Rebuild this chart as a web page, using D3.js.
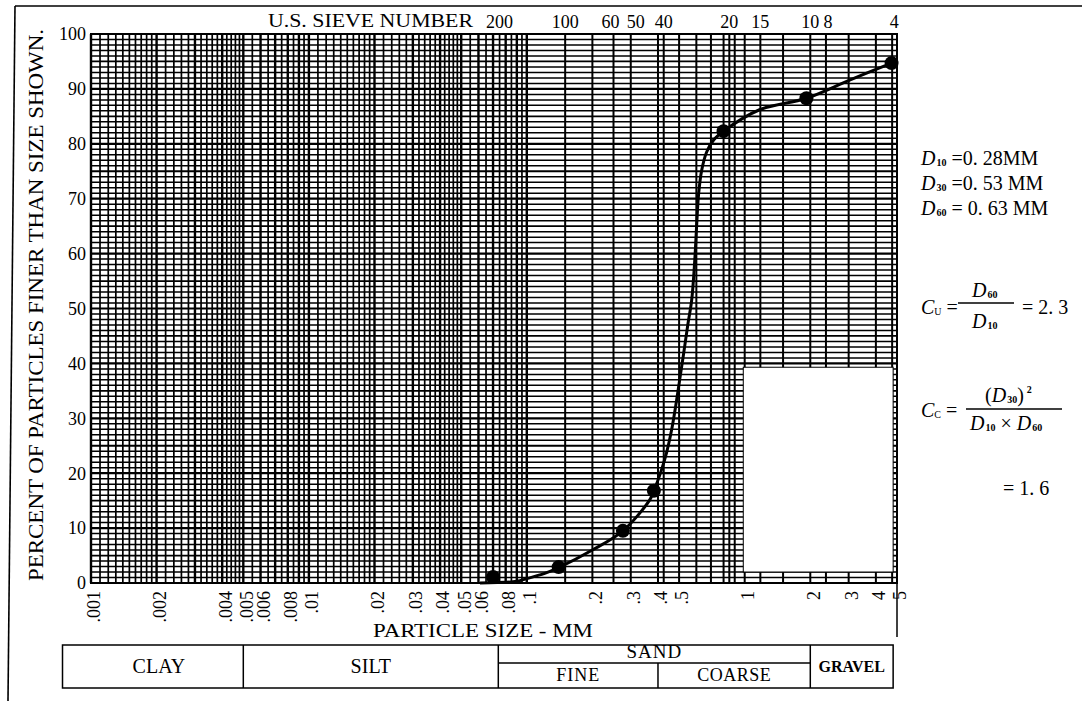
<!DOCTYPE html>
<html lang="en">
<head>
<meta charset="utf-8">
<title>Grain size distribution</title>
<script src="https://d3js.org/d3.v7.min.js"></script>
<style>
  html, body { margin: 0; padding: 0; background: #fff; }
  svg { display: block; font-family: "Liberation Serif", "Times New Roman", serif; }
</style>
</head>
<body>
<div id="viz"></div>
<script>
// ---- data ----
const sieveNumbers = ["200", "100", "60", "50", "40", "20", "15", "10", "8", "4"];
const sieveSizes = [0.075, 0.15, 0.25, 0.30, 0.425, 0.85, 1.18, 2.0, 2.36, 4.75];
const sieveLabelNudge = [0, 0, -3, 5, 0, 0, 0, 0, 2, 2];

const sizeTicks = [0.001, 0.002, 0.004, 0.005, 0.006, 0.008, 0.01, 0.02, 0.03, 0.04, 0.05,
                   0.06, 0.08, 0.1, 0.2, 0.3, 0.4, 0.5, 1, 2, 3, 4, 5];
const sizeTickLabels = [".001", ".002", ".004", ".005", ".006", ".008", ".01", ".02", ".03", ".04", ".05",
                        ".06", ".08", ".1", ".2", ".3", ".4", ".5", "1", "2", "3", "4", "5"];
const percentTicks = [0, 10, 20, 30, 40, 50, 60, 70, 80, 90, 100];

// sieve test results (dots)
const testSizes = [0.07, 0.14, 0.276, 0.383, 0.80, 1.92, 4.72];
const testPercents = [1.1, 2.9, 9.5, 16.8, 82.3, 88.3, 94.7];

// hand drawn gradation curve
const curveSizes = [0.061, 0.09, 0.1, 0.12, 0.14, 0.2, 0.276, 0.366, 0.383, 0.412, 0.439, 0.462,
                    0.483, 0.503, 0.525, 0.548, 0.571, 0.590, 0.602, 0.615, 0.635, 0.669, 0.720, 0.80,
                    1.17, 1.92, 3.03, 4.72];
const curvePercents = [0, 0.3, 0.8, 1.7, 2.8, 6.0, 9.5, 15.1, 16.8, 20.2, 23.9, 27.9,
                       32.4, 37.0, 41.9, 47.0, 51.5, 58.8, 65.2, 71.0, 75.2, 78.5, 80.7, 82.3,
                       86.2, 88.3, 91.6, 94.7];

// soil classification table under the chart
const soilBounds = [0.00074, 0.005, 0.074, 0.4, 2.0, 4.8];
const soilNames = ["CLAY", "SILT", "FINE", "COARSE", "GRAVEL"];

// lines of the graph paper outside the fine-ruled part
const coarseLines = [0.15, 0.2, 0.25, 0.3, 0.4, 0.425, 0.5, 0.6, 0.7, 0.8, 0.85, 0.9, 1,
                     1.18, 1.5, 2, 2.36, 3, 4, 4.75, 5];

const width = 1082;
const height = 701;
const plot = {left: 91, right: 897, top: 34, bottom: 583};

const svg = d3.select("#viz").append("svg")
    .attr("width", width)
    .attr("height", height)
    .attr("viewBox", [0, 0, width, height]);

const x = d3.scaleLog().domain([0.001, 5]).range([plot.left, plot.right]);
const y = d3.scaleLinear().domain([0, 100]).range([plot.bottom, plot.top]);

// outer frame of the scanned page
svg.append("line").attr("x1", 15).attr("y1", 6).attr("x2", width).attr("y2", 6)
    .attr("stroke", "#000").attr("stroke-width", 1.6);
svg.append("line").attr("x1", 15).attr("y1", 6).attr("x2", 8).attr("y2", height)
    .attr("stroke", "#000").attr("stroke-width", 1.6);

// fine ruled log paper from .001 to .1
const fineLines = [];
[0.001, 0.01].forEach(dec => {
  let m = 1;
  while (m < 10 - 1e-9) {
    fineLines.push({v: m * dec, major: Math.abs(m - Math.round(m)) < 1e-9});
    m = +(m + (m < 2 - 1e-9 ? 0.1 : m < 5 - 1e-9 ? 0.2 : 0.5)).toFixed(2);
  }
});
fineLines.push({v: 0.1, major: true});

const grid = svg.append("g").attr("class", "grid").attr("stroke", "#000");

grid.selectAll("line.h")
  .data(d3.range(0, 101))
  .enter().append("line")
    .attr("class", "h")
    .attr("x1", plot.left).attr("x2", plot.right)
    .attr("y1", d => y(d)).attr("y2", d => y(d))
    .attr("stroke-width", d => d % 10 === 0 ? 2.2 : d % 5 === 0 ? 1.8 : 1.5);

grid.selectAll("line.vf")
  .data(fineLines)
  .enter().append("line")
    .attr("class", "vf")
    .attr("x1", d => x(d.v)).attr("x2", d => x(d.v))
    .attr("y1", plot.top).attr("y2", plot.bottom)
    .attr("stroke-width", d => d.major ? 2.4 : 1.7);

grid.selectAll("line.vc")
  .data(coarseLines)
  .enter().append("line")
    .attr("class", "vc")
    .attr("x1", d => x(d)).attr("x2", d => x(d))
    .attr("y1", plot.top).attr("y2", plot.bottom)
    .attr("stroke-width", 2);

// blank patch on the paper
svg.append("rect")
    .attr("x", x(0.985)).attr("y", y(39.3))
    .attr("width", x(4.8) - x(0.985)).attr("height", y(2) - y(39.3))
    .attr("fill", "#fff").attr("stroke", "#000").attr("stroke-width", 1);

// plot border
svg.append("rect")
    .attr("x", plot.left).attr("y", plot.top)
    .attr("width", plot.right - plot.left).attr("height", plot.bottom - plot.top)
    .attr("fill", "none").attr("stroke", "#000").attr("stroke-width", 2);
svg.append("line").attr("x1", plot.right).attr("x2", plot.right)
    .attr("y1", plot.bottom).attr("y2", 637).attr("stroke", "#000").attr("stroke-width", 1.5);

// percent labels
svg.append("g").selectAll("text")
  .data(percentTicks)
  .enter().append("text")
    .attr("x", plot.left - 5).attr("y", d => y(d)).attr("dy", "0.35em")
    .attr("text-anchor", "end").attr("font-size", 18)
    .text(d => d);

svg.append("text")
    .attr("transform", "translate(43,305) rotate(-90)")
    .attr("text-anchor", "middle").attr("font-size", 20)
    .attr("textLength", 552).attr("lengthAdjust", "spacingAndGlyphs")
    .text("PERCENT OF PARTICLES FINER THAN SIZE SHOWN.");

// sieve numbers
svg.append("text")
    .attr("x", 268).attr("y", 27).attr("font-size", 18)
    .attr("textLength", 205).attr("lengthAdjust", "spacingAndGlyphs")
    .text("U.S. SIEVE NUMBER");
svg.append("g").selectAll("text")
  .data(sieveNumbers)
  .enter().append("text")
    .attr("x", (d, i) => x(sieveSizes[i]) + sieveLabelNudge[i]).attr("y", 28)
    .attr("text-anchor", "middle").attr("font-size", 18)
    .text(d => d);

// particle size labels
svg.append("g").selectAll("text")
  .data(sizeTicks)
  .enter().append("text")
    .attr("transform", d => `translate(${x(d) + 3},${plot.bottom + 8}) rotate(-90)`)
    .attr("dy", "0.35em").attr("text-anchor", "end").attr("font-size", 18)
    .text((d, i) => sizeTickLabels[i]);

svg.append("text")
    .attr("x", 373).attr("y", 637).attr("font-size", 18)
    .attr("textLength", 220).attr("lengthAdjust", "spacingAndGlyphs")
    .text("PARTICLE SIZE - MM");

// gradation curve
const pts = curveSizes.map((s, i) => [x(s), y(curvePercents[i])]);
svg.append("path")
    .attr("d", d3.line().curve(d3.curveCatmullRom.alpha(0.5))(pts))
    .attr("fill", "none").attr("stroke", "#000").attr("stroke-width", 3);

svg.append("g").selectAll("circle")
  .data(testSizes)
  .enter().append("circle")
    .attr("cx", d => x(d)).attr("cy", (d, i) => y(testPercents[i]))
    .attr("r", 7).attr("fill", "#000");

// classification table
const tTop = 645, tMid = 663, tBot = 688;
const tb = svg.append("g").attr("stroke", "#000").attr("stroke-width", 1.5).attr("fill", "none");
tb.append("rect")
    .attr("x", x(soilBounds[0])).attr("y", tTop)
    .attr("width", x(soilBounds[5]) - x(soilBounds[0])).attr("height", tBot - tTop);
soilBounds.slice(1, 5).forEach((b, i) => {
  tb.append("line").attr("x1", x(b)).attr("x2", x(b))
    .attr("y1", i === 2 ? tMid : tTop).attr("y2", tBot);
});
tb.append("line").attr("x1", x(soilBounds[2])).attr("x2", x(soilBounds[4]))
    .attr("y1", tMid).attr("y2", tMid);

const tl = svg.append("g").attr("text-anchor", "middle").attr("fill", "#000");
const mid = (a, b) => (x(a) + x(b)) / 2;
tl.append("text").attr("x", mid(soilBounds[0], soilBounds[1]) + 6).attr("y", 673).attr("font-size", 20).text(soilNames[0]);
tl.append("text").attr("x", mid(soilBounds[1], soilBounds[2])).attr("y", 673).attr("font-size", 20).text(soilNames[1]);
tl.append("text").attr("x", mid(soilBounds[2], soilBounds[4])).attr("y", 658).attr("font-size", 19)
    .attr("letter-spacing", 1).text("SAND");
tl.append("text").attr("x", mid(soilBounds[2], soilBounds[3])).attr("y", 681).attr("font-size", 18)
    .attr("letter-spacing", 1).text(soilNames[2]);
tl.append("text").attr("x", mid(soilBounds[3], soilBounds[4])).attr("y", 681).attr("font-size", 18)
    .attr("letter-spacing", 0.5).text(soilNames[3]);
tl.append("text").attr("x", mid(soilBounds[4], soilBounds[5])).attr("y", 672).attr("font-size", 16)
    .attr("font-weight", "bold").text(soilNames[4]);

// coefficients on the right
const note = svg.append("g").attr("font-size", 20).attr("fill", "#000");
function dSym(t, sub) {
  t.append("tspan").attr("font-style", "italic").text("D");
  t.append("tspan").attr("font-size", 10).attr("font-weight", "bold").attr("dy", 1).attr("dx", 1).text(sub);
  return t.append("tspan").attr("dy", -1);
}
function cSym(t, sub) {
  t.append("tspan").attr("font-style", "italic").text("C");
  t.append("tspan").attr("font-size", 10).attr("dy", 1).text(sub);
  return t.append("tspan").attr("dy", -1);
}
dSym(note.append("text").attr("x", 921).attr("y", 165), "10").text(" =0. 28MM");
dSym(note.append("text").attr("x", 921).attr("y", 190), "30").text(" =0. 53 MM");
dSym(note.append("text").attr("x", 921).attr("y", 215), "60").text(" = 0. 63 MM");

cSym(note.append("text").attr("x", 921).attr("y", 314), "U").text(" =");
dSym(note.append("text").attr("x", 972).attr("y", 297), "60").text("");
note.append("line").attr("x1", 958).attr("x2", 1014).attr("y1", 303).attr("y2", 303)
    .attr("stroke", "#000").attr("stroke-width", 1.3);
dSym(note.append("text").attr("x", 972).attr("y", 328), "10").text("");
note.append("text").attr("x", 1022).attr("y", 314).text("= 2. 3");

cSym(note.append("text").attr("x", 921).attr("y", 417), "C").text(" =");
const num = note.append("text").attr("x", 985).attr("y", 402);
num.append("tspan").text("(");
dSym(num, "30").text(")");
num.append("tspan").attr("font-size", 10).attr("font-weight", "bold").attr("dy", -9).attr("dx", 3).text("2");
note.append("line").attr("x1", 966).attr("x2", 1062).attr("y1", 409).attr("y2", 409)
    .attr("stroke", "#000").attr("stroke-width", 1.3);
const den = note.append("text").attr("x", 970).attr("y", 430);
dSym(den, "10").text(" × ");
dSym(den, "60").text("");
note.append("text").attr("x", 1003).attr("y", 495).text("= 1. 6");
</script>
</body>
</html>
